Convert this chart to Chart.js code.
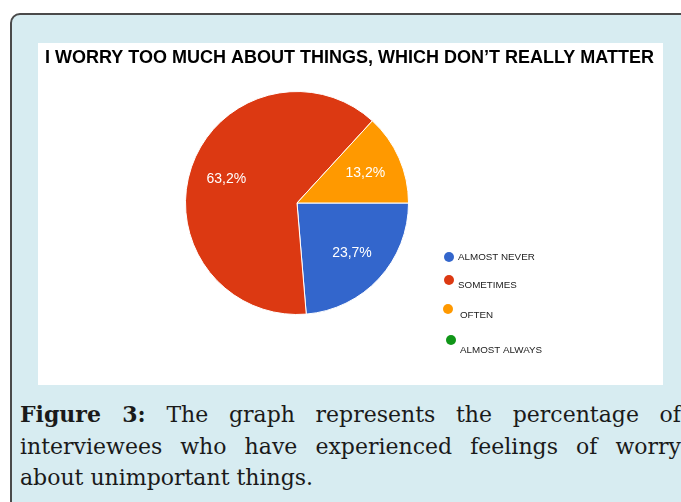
<!DOCTYPE html>
<html>
<head>
<meta charset="utf-8">
<script src="https://cdn.jsdelivr.net/npm/chart.js@4.4.1/dist/chart.umd.min.js"></script>
<style>
  html, body { margin: 0; padding: 0; background: #ffffff; width: 681px; height: 502px; overflow: hidden; }
  .frame {
    position: absolute; left: 10px; top: 13px; width: 700px; height: 520px;
    background: #d7ecf1; border: 2px solid #4a4a4a; border-radius: 10px; box-sizing: border-box;
  }
  .plot {
    position: absolute; left: 38px; top: 43px; width: 625px; height: 342px; background: #ffffff;
  }
  .caption {
    position: absolute; left: 20px; top: 399px; width: 661px;
    font-family: "DejaVu Serif", serif; font-size: 22px; line-height: 31.5px; color: #1a1a1a;
  }
  .caption div.j { text-align: justify; text-align-last: justify; }
  .caption b { font-weight: bold; }
</style>
</head>
<body>
<div class="frame"></div>
<div class="plot"><canvas id="pie" width="625" height="342"></canvas></div>
<div class="caption">
  <div class="j"><b>Figure 3:</b> The graph represents the percentage of</div>
  <div class="j">interviewees who have experienced feelings of worry</div>
  <div>about unimportant things.</div>
</div>
<script>
const chartTitle = "I WORRY TOO MUCH ABOUT THINGS, WHICH DON\u2019T REALLY MATTER";
const categories = ["ALMOST NEVER", "SOMETIMES", "OFTEN", "ALMOST ALWAYS"];
const percentages = [23.7, 63.2, 13.2, 0];
const sliceColors = ["#3366cc", "#dc3912", "#ff9900", "#109618"];

// Bold heading across the top of the white panel
const headline = {
  id: "headline",
  afterDraw(chart, args, opts) {
    const ctx = chart.ctx;
    ctx.save();
    ctx.font = "bold 18px 'Liberation Sans', Arial, sans-serif";
    ctx.fillStyle = "#000000";
    ctx.textAlign = "center";
    ctx.textBaseline = "middle";
    ctx.fillText(opts.text, chart.width / 2 - 1, opts.y, chart.width - 12);
    ctx.restore();
  }
};

// Percent text inside each slice, placed part-way out along the slice's middle angle
const sliceLabels = {
  id: "sliceLabels",
  afterDatasetsDraw(chart) {
    const ctx = chart.ctx;
    const meta = chart.getDatasetMeta(0);
    ctx.save();
    ctx.font = "14px 'Liberation Sans', Arial, sans-serif";
    ctx.fillStyle = "#ffffff";
    ctx.textAlign = "center";
    ctx.textBaseline = "middle";
    meta.data.forEach((arc, i) => {
      const v = chart.data.datasets[0].data[i];
      if (!v) return;
      const p = arc.getProps(["x", "y", "startAngle", "endAngle", "outerRadius"], true);
      const mid = (p.startAngle + p.endAngle) / 2;
      const r = p.outerRadius * 0.67;
      ctx.fillText(v.toFixed(1).replace(".", ",") + "%", p.x + Math.cos(mid) * r, p.y + Math.sin(mid) * r);
    });
    ctx.restore();
  }
};

// Legend column with round markers to the right of the pie
const dotLegend = {
  id: "dotLegend",
  afterDraw(chart, args, opts) {
    const ctx = chart.ctx;
    ctx.save();
    ctx.font = "9.8px 'Liberation Sans', Arial, sans-serif";
    ctx.textBaseline = "middle";
    ctx.textAlign = "left";
    chart.data.labels.forEach((label, i) => {
      const d = opts.items[i];
      ctx.fillStyle = chart.data.datasets[0].backgroundColor[i];
      ctx.beginPath();
      ctx.arc(opts.x + d.dx, d.dotY, 5, 0, Math.PI * 2);
      ctx.fill();
      ctx.fillStyle = "#222222";
      ctx.fillText(label, opts.x + 9 + d.dx + d.tx, d.textY);
    });
    ctx.restore();
  }
};

new Chart(document.getElementById("pie"), {
  type: "pie",
  data: {
    labels: categories,
    datasets: [{
      data: percentages,
      backgroundColor: sliceColors,
      borderColor: "#ffffff",
      borderWidth: 1
    }]
  },
  options: {
    responsive: false,
    animation: false,
    rotation: 90,
    layout: { padding: { left: 147, right: 254, top: 48, bottom: 70 } },
    plugins: {
      legend: { display: false },
      tooltip: { enabled: false },
      title: { display: false },
      headline: { text: chartTitle, y: 15 },
      dotLegend: {
        x: 411,
        items: [
          { dx: 0, dotY: 214, tx: 0, textY: 214 },
          { dx: 0, dotY: 237, tx: 0, textY: 242 },
          { dx: -1, dotY: 266, tx: 3, textY: 272 },
          { dx: 2, dotY: 297, tx: 0, textY: 307 }
        ]
      }
    }
  },
  plugins: [sliceLabels, dotLegend, headline]
});
</script>
</body>
</html>
